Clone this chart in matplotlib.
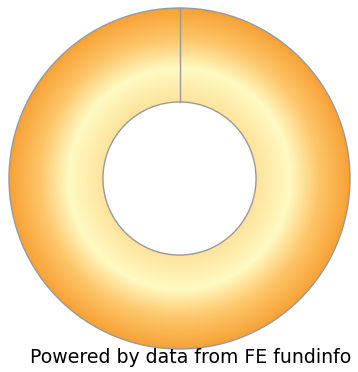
import numpy as np
import matplotlib.pyplot as plt
from matplotlib.colors import LinearSegmentedColormap

# single holding, full ring
labels = ['Fund']
values = [100]
credit = 'Powered by data from FE fundinfo'

# radial shading of the ring (fraction of outer radius -> colour)
shade_stops = [0.0, 0.449, 0.65, 0.82, 1.0]
shade_colors = ['#fde39c', '#fde39c', '#fffac2', '#fdc66a', '#f8a236']

W, H = 358, 372
fig = plt.figure(figsize=(W / 100, H / 100), dpi=100)
ax = fig.add_axes([9 / W, 23 / H, 341 / W, 341 / H])

hole = 0.449
wedges, _ = ax.pie(values, radius=1.0, startangle=90, counterclock=False,
                   wedgeprops=dict(width=1 - hole, edgecolor='#999999', linewidth=1.0))
ax.set_xlim(-1, 1)
ax.set_ylim(-1, 1)
ax.set_aspect('equal')
ax.axis('off')

# gradient fill clipped to the ring
n = 600
xx, yy = np.meshgrid(np.linspace(-1, 1, n), np.linspace(-1, 1, n))
rr = np.sqrt(xx ** 2 + yy ** 2)
cmap = LinearSegmentedColormap.from_list('ring', list(zip(shade_stops, shade_colors)))
for w in wedges:
    w.set_facecolor('none')
    w.set_clip_on(False)
    img = ax.imshow(rr, cmap=cmap, vmin=0, vmax=1, extent=(-1, 1, -1, 1),
                    origin='lower', interpolation='bilinear', zorder=0)
    img.set_clip_path(w)

# slice boundaries
theta = 90.0
for v in values:
    a = np.deg2rad(theta)
    ax.plot([hole * np.cos(a), np.cos(a)], [hole * np.sin(a), np.sin(a)],
            color='#999999', lw=1.0, clip_on=False)
    theta -= 360.0 * v / sum(values)

fig.text(30 / W, 1 - 363 / H, credit, ha='left', va='baseline',
         fontsize=13.6, family='DejaVu Sans', color='black')

fig.savefig('out.png', dpi=100)
